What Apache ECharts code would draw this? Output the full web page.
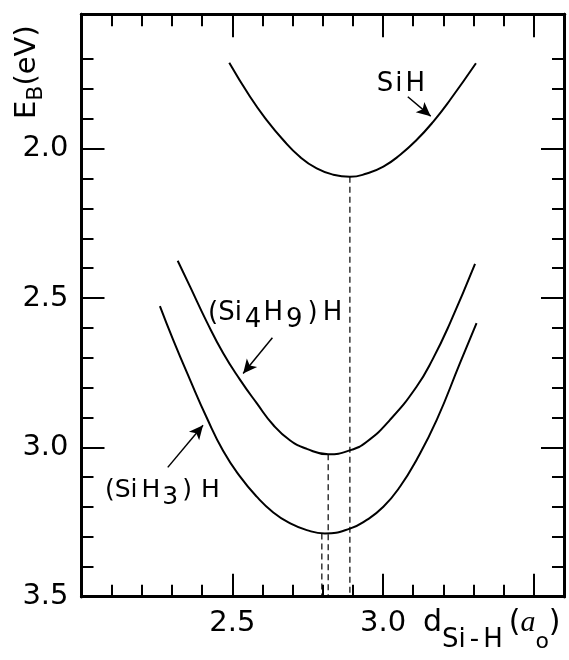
<!DOCTYPE html>
<html>
<head>
<meta charset="utf-8">
<script src="https://cdn.jsdelivr.net/npm/echarts@6/dist/echarts.min.js"></script>
<style>
html, body { margin: 0; padding: 0; background: #fff; }
#main { width: 569px; height: 660px; }
</style>
</head>
<body>
<div id="main"></div>
<script>
// binding energy E_B (eV) against Si-H distance (a_o)
var siH = [[2.490,1.712],[2.559,1.826],[2.614,1.904],[2.669,1.971],[2.724,2.027],[2.780,2.066],
           [2.835,2.087],[2.890,2.094],[2.946,2.083],[3.001,2.060],[3.056,2.021],[3.111,1.971],
           [3.166,1.910],[3.222,1.837],[3.308,1.714]];
var si4h9H = [[2.319,2.375],[2.360,2.462],[2.415,2.579],[2.470,2.685],[2.526,2.774],[2.581,2.852],
              [2.636,2.925],[2.691,2.976],[2.747,3.005],[2.818,3.023],[2.890,3.010],[2.946,2.981],
              [3.023,2.908],[3.111,2.797],[3.166,2.702],[3.222,2.584],[3.305,2.386]];
var siH3H = [[2.260,2.527],[2.304,2.640],[2.360,2.774],[2.415,2.900],[2.470,3.012],[2.526,3.098],
             [2.581,3.165],[2.636,3.218],[2.691,3.254],[2.747,3.277],[2.807,3.288],[2.890,3.272],
             [2.946,3.243],[3.001,3.199],[3.056,3.132],[3.111,3.042],[3.178,2.908],[3.255,2.718],
             [3.310,2.584]];

// minima, dropped to the axis with dashed lines
var minX = [2.890, 2.818, 2.797];
var minY = [2.094, 3.023, 3.288];

var xLabels = [2.5, 3.0];
var yLabels = [2.0, 2.5, 3.0, 3.5];
var yMajorTicks = [2.0, 2.5, 3.0, 3.5];
var yMinorTicks = [1.7, 1.8, 1.9, 2.1, 2.2, 2.3, 2.4, 2.6, 2.7, 2.8, 2.9, 3.1, 3.2, 3.3, 3.4];

// label arrows: [fromX, fromY, toX, toY]
var arrows = [[3.082,1.826,3.158,1.891],
              [2.633,2.633,2.536,2.753],
              [2.286,3.067,2.403,2.926]];

var FONT = 'DejaVu Sans';
var BLACK = '#000';

function frameAxis(extra) {
    var ax = {
        type: 'value',
        axisLine: { show: true, lineStyle: { color: BLACK, width: 3 } },
        axisTick: { show: true, inside: true, length: 23, lineStyle: { color: BLACK, width: 2 } },
        minorTick: { show: true, splitNumber: 5, length: 12, lineStyle: { color: BLACK, width: 2 } },
        splitLine: { show: false },
        axisLabel: { show: false }
    };
    for (var k in extra) ax[k] = extra[k];
    return ax;
}

function yFrame(pos, ticks, len, label) {
    return frameAxis({
        position: pos, min: 1.55, max: 3.5, inverse: true,
        axisTick: { show: true, inside: true, length: len, customValues: ticks,
                    lineStyle: { color: BLACK, width: 2 } },
        minorTick: { show: false },
        axisLabel: label || { show: false }
    });
}

var yLabelStyle = { show: true, margin: 13, color: BLACK, fontSize: 29, fontFamily: FONT,
    customValues: yLabels,
    formatter: function (v) { return v.toFixed(1); } };

var dropLines = minX.map(function (x, i) {
    return {
        type: 'line',
        data: [[x, minY[i]], [x, 3.5]],
        showSymbol: false,
        symbol: 'none',
        lineStyle: { color: BLACK, width: 1.2, type: [6, 4] },
        z: 1
    };
});

function curve(data) {
    return {
        type: 'line',
        data: data,
        smooth: 0.5,
        showSymbol: false,
        symbol: 'none',
        lineStyle: { color: BLACK, width: 2 },
        z: 3
    };
}

var myChart = echarts.init(document.getElementById('main'));
var option = {
    animation: false,
    backgroundColor: '#fff',
    grid: { left: 81.5, right: 5, top: 14.3, bottom: 63.3, containLabel: false, outerBoundsMode: 'none' },
    xAxis: [
        frameAxis({ position: 'bottom', min: 2.0, max: 3.6, interval: 0.5,
            axisLabel: { show: true, margin: 12, color: BLACK, fontSize: 29, fontFamily: FONT,
                formatter: function (v) { return xLabels.indexOf(v) >= 0 ? v.toFixed(1) : ''; } } }),
        frameAxis({ position: 'top', min: 2.0, max: 3.6, interval: 0.5 })
    ],
    yAxis: [
        yFrame('left', yMajorTicks, 23, yLabelStyle),
        yFrame('left', yMinorTicks, 12),
        yFrame('right', yMajorTicks, 23),
        yFrame('right', yMinorTicks, 12)
    ],
    series: [
        curve(siH),
        curve(si4h9H),
        curve(siH3H),
        {
            type: 'line',
            data: [],
            markLine: {
                silent: true,
                symbol: ['none', 'arrow'],
                symbolSize: [10, 14],
                label: { show: false },
                lineStyle: { color: BLACK, width: 1.5, type: 'solid' },
                data: arrows.map(function (a) {
                    return [{ coord: [a[0], a[1]] }, { coord: [a[2], a[3]] }];
                })
            }
        }
    ].concat(dropLines),
    graphic: [
        {   // y axis name E_B (eV)
            type: 'text', x: 27, y: 119, rotation: Math.PI / 2,
            style: {
                text: '{m|E}{s|B}{m|(eV)}',
                align: 'left', verticalAlign: 'middle', fill: BLACK,
                rich: {
                    m: { fontSize: 29, fontFamily: FONT, lineHeight: 40 },
                    s: { fontSize: 22, fontFamily: FONT, lineHeight: 19, verticalAlign: 'bottom' }
                }
            }
        },
        {   // x axis name d_Si-H (a_o)
            type: 'text', x: 423, y: 623.5,
            style: {
                text: '{m|d}{s1|Si}{s1h|-}{s1e|H}{m|(}{a|a}{s2|o}{m|)}',
                align: 'left', verticalAlign: 'middle', fill: BLACK,
                rich: {
                    m: { fontSize: 30, fontFamily: FONT, lineHeight: 60 },
                    s1: { fontSize: 26, fontFamily: FONT, lineHeight: 10, verticalAlign: 'bottom' },
                    s1h: { fontSize: 26, fontFamily: FONT, lineHeight: 10, verticalAlign: 'bottom', padding: [0, 4, 0, 4] },
                    s1e: { fontSize: 26, fontFamily: FONT, lineHeight: 10, verticalAlign: 'bottom', padding: [0, 6, 0, 0] },
                    a: { fontSize: 30, fontFamily: 'Liberation Serif', fontStyle: 'italic', lineHeight: 60 },
                    s2: { fontSize: 22, fontFamily: FONT, lineHeight: 18, verticalAlign: 'bottom' }
                }
            }
        },
        {
            type: 'text', x: 401, y: 84.5,
            style: {
                text: '{a|S}{b|i}{a|H}',
                align: 'center', verticalAlign: 'middle', fill: BLACK,
                rich: {
                    a: { fontSize: 26, fontFamily: FONT },
                    b: { fontSize: 26, fontFamily: FONT, padding: [0, 3, 0, 2] }
                }
            }
        },
        {
            type: 'text', x: 208, y: 313,
            style: {
                text: '{m|(Si}{s|4}{m|H}{s|9}{p|)}{m|H}',
                align: 'left', verticalAlign: 'middle', fill: BLACK,
                rich: {
                    m: { fontSize: 26, fontFamily: FONT, lineHeight: 40 },
                    s: { fontSize: 26, fontFamily: FONT, lineHeight: 20, verticalAlign: 'bottom', padding: [0, 2, 0, 3] },
                    p: { fontSize: 26, fontFamily: FONT, lineHeight: 40, padding: [0, 5, 0, 3] }
                }
            }
        },
        {
            type: 'text', x: 105, y: 490,
            style: {
                text: '{m|(Si}{g|H}{s|3}{p|)}{m|H}',
                align: 'left', verticalAlign: 'middle', fill: BLACK,
                rich: {
                    m: { fontSize: 25, fontFamily: FONT, lineHeight: 40 },
                    g: { fontSize: 25, fontFamily: FONT, lineHeight: 40, padding: [0, 0, 0, 4] },
                    s: { fontSize: 25, fontFamily: FONT, lineHeight: 14, verticalAlign: 'bottom', padding: [0, 2, 0, 2] },
                    p: { fontSize: 25, fontFamily: FONT, lineHeight: 40, padding: [0, 9, 0, 2] }
                }
            }
        }
    ]
};
myChart.setOption(option);
</script>
</body>
</html>
